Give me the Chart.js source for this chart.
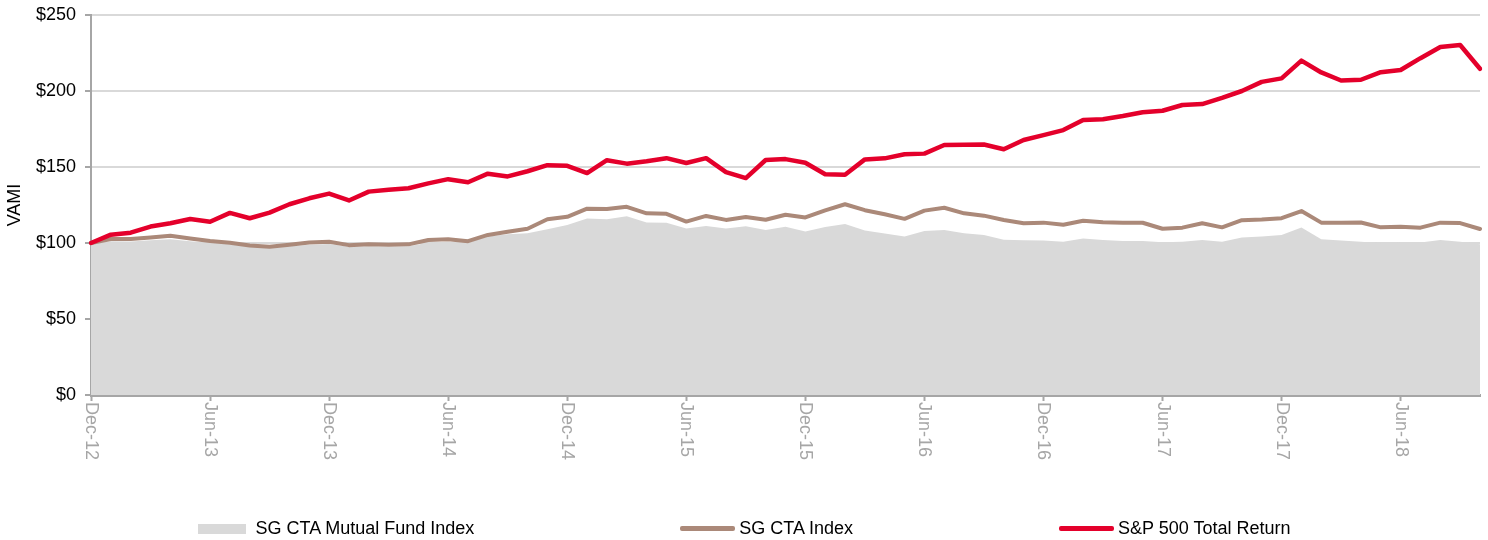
<!DOCTYPE html>
<html>
<head>
<meta charset="utf-8">
<script src="https://cdn.jsdelivr.net/npm/chart.js@4.4.1/dist/chart.umd.min.js"></script>
<style>
body{margin:0;background:#fff;font-family:"Liberation Sans",Arial,sans-serif;}
#wrap{position:relative;width:1488px;height:540px;}
#legend{position:absolute;left:0;top:518px;width:1488px;display:flex;justify-content:center;gap:206px;font-size:18px;color:#000;}
.item{display:flex;align-items:center;}
.box{width:48px;height:10px;margin-right:10px;}
.line{width:55px;height:5px;margin-right:4px;border-radius:2px;}
</style>
</head>
<body>
<div id="wrap">
  <canvas id="myChart" width="1488" height="540"></canvas>
  <div id="legend"></div>
</div>
<script>
// monthly, Dec-12 .. Oct-18
const monthNames = ['Jan','Feb','Mar','Apr','May','Jun','Jul','Aug','Sep','Oct','Nov','Dec'];
const months = ['Dec-12'];
for (let y = 13; y <= 18; y++) {
  for (let m = 0; m < 12; m++) {
    if (y === 18 && m > 9) break;
    months.push(monthNames[m] + '-' + y);
  }
}

const mutualFund = [100,101.2,101,101.8,102.5,101.2,100,99.2,97.6,96.8,97.8,98.9,99.3,97.6,97.9,97.7,97.9,100.2,100.8,100.3,
  104.2,105.8,106.4,109,111.8,116.2,115.6,117.6,113.5,113.3,109.6,111.2,109.6,111.1,108.6,110.7,107.5,110.6,112.5,108.2,
  106.3,104.2,107.9,108.6,106.4,105.3,102.1,101.8,101.6,100.9,102.9,102,101.3,101.3,100.5,100.9,102,100.9,103.7,104.2,
  105.3,110.2,102.4,101.6,100.9,99.9,100.4,100.4,102,100.9,99.2];

const sgCta = [100,102.6,102.6,103.6,104.7,102.9,101.3,100.2,98.4,97.5,98.8,100.3,100.8,98.6,99.1,98.8,99.1,102,102.5,101.2,
  105.3,107.4,109.4,115.6,117.2,122.6,122.3,123.8,119.5,119.2,114.1,117.8,115.2,117.1,115.3,118.6,116.8,121.5,125.5,121.6,
  118.9,115.9,121.3,123.2,119.5,118,115.1,113,113.4,112,114.6,113.6,113.4,113.3,109.4,110.1,113,110.3,115,115.5,
  116.3,121,113.4,113.3,113.5,110.3,110.7,110.1,113.4,113.1,109.2];

const sp500 = [100,105.5,106.8,110.8,113,115.8,114,119.8,116.3,120,125.5,129.4,132.5,128,133.8,135,136,139.2,142,140,
  145.6,143.8,147.2,151.2,150.8,146,154.5,152.2,153.8,155.8,152.6,155.8,146.6,142.7,154.6,155.2,152.8,145.2,144.9,155,
  155.7,158.4,158.8,164.5,164.6,164.8,161.7,167.8,171,174.3,181,181.4,183.5,186,187,190.8,191.4,195.5,200,206,
  208.3,220,212.2,206.9,207.4,212.4,213.8,221.6,229,230.3,214.6];

const yTicks = [0, 50, 100, 150, 200, 250];

Chart.defaults.font.family = '"Liberation Sans", Arial, sans-serif';
Chart.defaults.font.size = 18;

// x labels read top-to-bottom, so draw them ourselves
const xLabels = {
  id: 'xLabels',
  afterDraw(chart) {
    const x = chart.scales.x;
    const c = chart.ctx;
    c.save();
    c.font = '18px "Liberation Sans", Arial, sans-serif';
    c.fillStyle = '#a6a6a6';
    c.textAlign = 'left';
    c.textBaseline = 'middle';
    months.forEach((m, i) => {
      if (i % 6 !== 0) return;
      c.save();
      c.translate(x.getPixelForValue(i), x.top + 7);
      c.rotate(Math.PI / 2);
      c.fillText(m, 0, 0);
      c.restore();
    });
    c.restore();
  }
};

const myChart = new Chart(document.getElementById('myChart'), {
  type: 'line',
  data: {
    labels: months,
    datasets: [
      {label: 'SG CTA Mutual Fund Index', data: mutualFund, fill: 'origin', backgroundColor: '#d9d9d9',
       borderColor: '#d9d9d9', borderWidth: 0, pointRadius: 0, order: 3},
      {label: 'SG CTA Index', data: sgCta, borderColor: '#ab8979', borderWidth: 4, pointRadius: 0,
       borderJoinStyle: 'round', borderCapStyle: 'round', fill: false, order: 2},
      {label: 'S&P 500 Total Return', data: sp500, borderColor: '#e4002b', borderWidth: 4.5, pointRadius: 0,
       borderJoinStyle: 'round', borderCapStyle: 'round', fill: false, order: 1}
    ]
  },
  options: {
    responsive: false,
    animation: false,
    layout: {padding: {top: 0, right: 8, bottom: 45, left: 0}},
    plugins: {legend: {display: false}, tooltip: {enabled: false}},
    scales: {
      x: {
        ticks: {display: false},
        grid: {
          drawOnChartArea: false, tickLength: 6, tickWidth: 2,
          tickColor: c => c.index % 6 === 0 ? '#a6a6a6' : 'rgba(0,0,0,0)'
        },
        border: {color: '#a6a6a6', width: 3},
        afterFit: s => { s.height = 100; }
      },
      y: {
        min: 0, max: 250,
        afterBuildTicks: s => { s.ticks = yTicks.map(v => ({value: v})); },
        ticks: {color: '#000', padding: 9, callback: v => '$' + v},
        grid: {color: '#d9d9d9', lineWidth: 2, tickLength: 6, tickColor: '#a6a6a6', tickWidth: 2},
        border: {color: '#a6a6a6', width: 2},
        title: {display: true, text: 'VAMI', color: '#000'},
        afterFit: s => { s.width = 91; s.paddingTop = 15; }
      }
    }
  },
  plugins: [xLabels]
});

// legend below the chart, built from the datasets
const legend = document.getElementById('legend');
myChart.data.datasets.forEach((ds, i) => {
  const item = document.createElement('div');
  item.className = 'item';
  const mark = document.createElement('span');
  mark.className = i === 0 ? 'box' : 'line';
  mark.style.background = i === 0 ? ds.backgroundColor : ds.borderColor;
  const txt = document.createElement('span');
  txt.textContent = ds.label;
  item.appendChild(mark);
  item.appendChild(txt);
  legend.appendChild(item);
});
</script>
</body>
</html>
